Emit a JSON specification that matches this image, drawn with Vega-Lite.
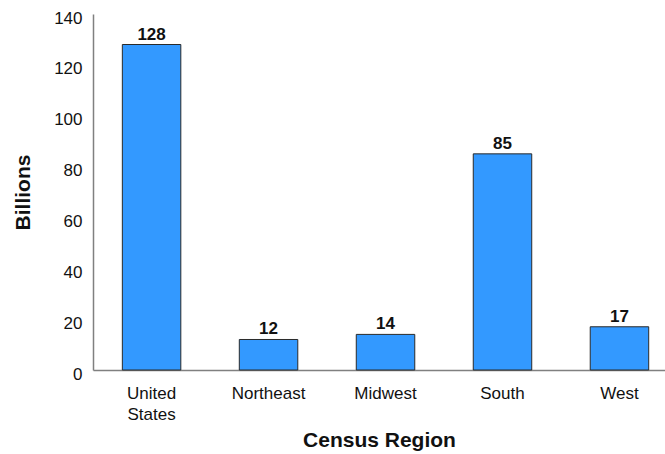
{
  "$schema": "https://vega.github.io/schema/vega-lite/v6.json",
  "autosize": {"type": "none"},
  "padding": {"left": 93, "top": 14, "right": 0, "bottom": 84},
  "width": 572,
  "height": 356,
  "background": "white",
  "config": {
    "view": {"stroke": null},
    "font": "Liberation Sans",
    "axis": {
      "grid": false,
      "ticks": false,
      "domainColor": "#808080",
      "domainWidth": 1.5,
      "labelFont": "Liberation Sans",
      "labelFontSize": 17,
      "labelColor": "#111111",
      "titleFont": "Liberation Sans",
      "titleFontSize": 21,
      "titleFontWeight": "bold",
      "titleColor": "#111111"
    }
  },
  "data": {
    "values": [
      {"region": "United States", "value": 128},
      {"region": "Northeast", "value": 12},
      {"region": "Midwest", "value": 14},
      {"region": "South", "value": 85},
      {"region": "West", "value": 17}
    ]
  },
  "encoding": {
    "x": {
      "field": "region",
      "type": "nominal",
      "sort": null,
      "scale": {"paddingInner": 0.5, "paddingOuter": 0.195, "align": 0.643},
      "axis": {
        "title": "Census Region",
        "labelAngle": 0,
        "labelPadding": 15,
        "labelLineHeight": 21,
        "labelBaseline": "top",
        "titlePadding": 7,
        "labelExpr": "datum.value == 'United States' ? ['United', 'States'] : datum.label"
      }
    },
    "y": {
      "field": "value",
      "type": "quantitative",
      "scale": {"domain": [0, 140], "nice": false},
      "axis": {
        "title": "Billions",
        "values": [0, 20, 40, 60, 80, 100, 120, 140],
        "labelPadding": 11,
        "labelOffset": 4,
        "titlePadding": 20
      }
    }
  },
  "layer": [
    {
      "mark": {"type": "bar", "color": "#3399FF", "stroke": "#2a2a2a", "strokeWidth": 1}
    },
    {
      "mark": {"type": "text", "baseline": "alphabetic", "dy": -5, "fontSize": 17, "fontWeight": "bold", "color": "#111111", "font": "Liberation Sans"},
      "encoding": {"text": {"field": "value", "type": "quantitative"}}
    }
  ]
}
